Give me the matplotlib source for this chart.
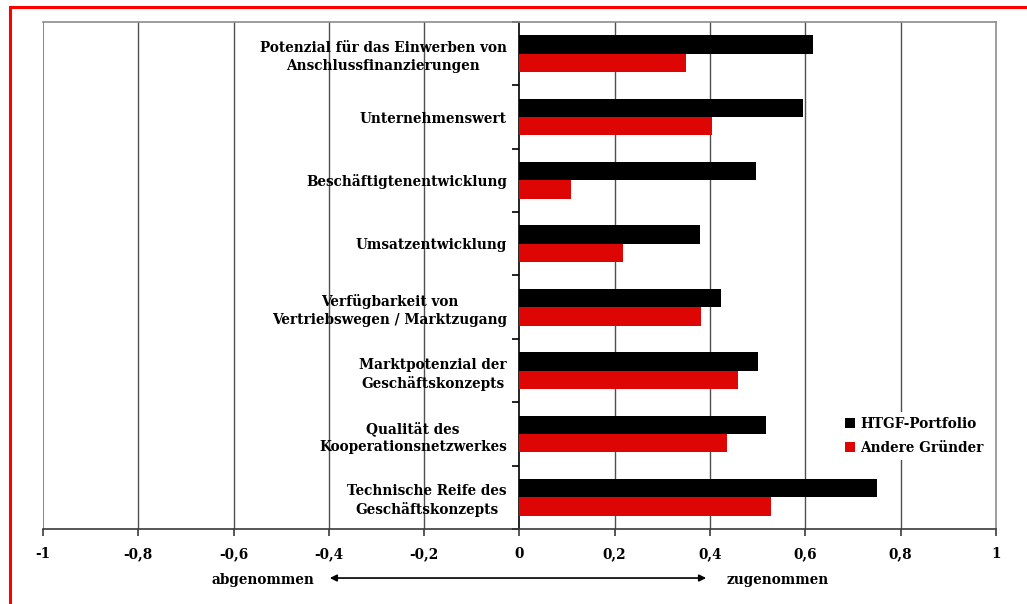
import matplotlib
matplotlib.use("Agg")
import matplotlib.pyplot as plt
from matplotlib.patches import Rectangle
from matplotlib.transforms import blended_transform_factory
import numpy as np

kategorien = [
    "Potenzial für das Einwerben von\nAnschlussfinanzierungen",
    "Unternehmenswert",
    "Beschäftigtenentwicklung",
    "Umsatzentwicklung",
    "Verfügbarkeit von\nVertriebswegen / Marktzugang",
    "Marktpotenzial der\nGeschäftskonzepts",
    "Qualität des\nKooperationsnetzwerkes",
    "Technische Reife des\nGeschäftskonzepts",
]
htgf = [0.616, 0.595, 0.497, 0.380, 0.424, 0.501, 0.518, 0.751]
andere = [0.350, 0.405, 0.109, 0.218, 0.382, 0.459, 0.436, 0.528]
x_ticks = [-1, -0.8, -0.6, -0.4, -0.2, 0, 0.2, 0.4, 0.6, 0.8, 1]
x_labels = ["-1", "-0,8", "-0,6", "-0,4", "-0,2", "0", "0,2", "0,4", "0,6", "0,8", "1"]

plt.rcParams['font.family'] = ['DejaVu Serif']
plt.rcParams['font.weight'] = 'bold'
fs = 9.8

fig = plt.figure(figsize=(10.27, 6.04), dpi=100)
ax = fig.add_axes([0.0419, 0.1242, 0.9277, 0.8394])

n = len(kategorien)
pos = np.arange(n)[::-1]  # first category on top
h = 0.29
ax.barh(pos + h / 2, htgf, height=h, color='black', label='HTGF-Portfolio', zorder=3)
ax.barh(pos - h / 2, andere, height=h, color='#DE0505', label='Andere Gründer', zorder=3)

ax.set_xlim(-1, 1)
ax.set_ylim(-0.5, n - 0.5)

# vertical grid lines
for g in [-0.8, -0.6, -0.4, -0.2, 0.2, 0.4, 0.6, 0.8]:
    ax.axvline(g, color='#505050', lw=1.0, zorder=1)

# frame: gray box, y axis at zero
for s in ['top', 'right']:
    ax.spines[s].set_color('#8c8c8c')
    ax.spines[s].set_linewidth(1.2)
ax.spines['bottom'].set_color('#3a3a3a')
ax.spines['bottom'].set_linewidth(1.2)
ax.spines['left'].set_position(('data', 0))
ax.spines['left'].set_color('black')
ax.spines['left'].set_linewidth(1.2)
ax.axvline(-1, color='#8c8c8c', lw=1.5, zorder=2)

ax.set_xticks(x_ticks)
ax.set_xticklabels(x_labels, fontsize=fs, fontweight='bold')
ax.tick_params(axis='x', direction='out', length=5, width=1.2, color='#3a3a3a', pad=8)

ax.set_yticks(np.arange(n + 1) - 0.5)
ax.set_yticklabels([])
ax.tick_params(axis='y', which='major', direction='out', length=5, width=1.2)
ax.set_yticks(pos, minor=True)
ax.set_yticklabels(kategorien, minor=True, fontsize=fs, fontweight='bold')
ax.tick_params(axis='y', which='minor', length=0, pad=9)
for t in ax.get_yticklabels(minor=True):
    t.set_multialignment('center')
    t.set_linespacing(1.35)

leg = ax.legend(loc='upper left', bbox_to_anchor=(833 / 1027, 1 - 405 / 604),
                bbox_transform=fig.transFigure, frameon=True, fancybox=False,
                edgecolor='none', facecolor='white', framealpha=1,
                handlelength=0.75, handleheight=0.75, handletextpad=0.4,
                borderpad=0.35, labelspacing=0.75, prop={'size': fs, 'weight': 'bold'})
leg.set_zorder(5)

# direction arrow below the axis
mix = blended_transform_factory(ax.transData, fig.transFigure)
ax.annotate('', xy=(-0.398, 0.043), xytext=(0.392, 0.043),
            xycoords=mix, textcoords=mix,
            arrowprops=dict(arrowstyle='<|-|>', color='black', lw=1.2,
                            mutation_scale=10, shrinkA=0, shrinkB=0),
            annotation_clip=False)
ax.text(-0.538, 0.040, 'abgenommen', transform=mix,
        ha='center', va='center', fontsize=fs, fontweight='bold')
ax.text(0.543, 0.040, 'zugenommen', transform=mix,
        ha='center', va='center', fontsize=fs, fontweight='bold')

# red border line
fig.patches.append(Rectangle((10 / 1027, -0.1), 1.2, 1.1 - 7 / 604, fill=False,
                             edgecolor='#FF0000', lw=2.2, transform=fig.transFigure))

fig.savefig('out.png', dpi=100)
